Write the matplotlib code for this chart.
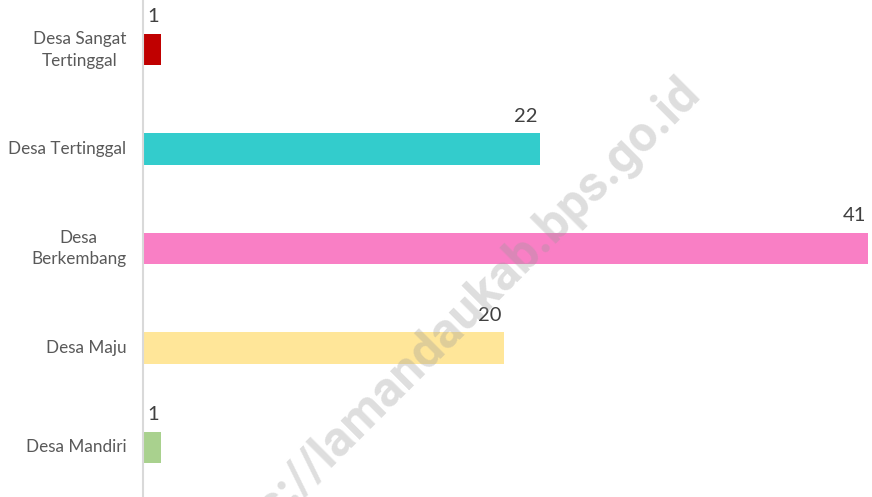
import numpy as np
import matplotlib
matplotlib.use("Agg")
import matplotlib.pyplot as plt

# data (top to bottom)
kategori = ["Desa Sangat\nTertinggal", "Desa Tertinggal", "Desa\nBerkembang",
            "Desa Maju", "Desa Mandiri"]
jumlah = [1, 22, 41, 20, 1]
warna = ["#C00000", "#33CCCC", "#F97FC5", "#FFE699", "#A9D18E"]

plt.rcParams["font.family"] = ["Lato", "DejaVu Sans"]

fig = plt.figure(figsize=(8.72, 4.97), dpi=100)
ax = fig.add_axes([143.0 / 872, 0.0, (868 - 143.0) / 872, 1.0])

y = np.arange(len(kategori))
ax.barh(y, jumlah, height=0.315, color=warna, zorder=2)

x_max = 40.2  # plot area in the source cuts off the longest bar
ax.set_xlim(0, x_max)
ax.set_ylim(len(kategori) - 0.5, -0.5)

for yi, v in zip(y, jumlah):
    ax.text(min(v, x_max) - 0.12, yi - 0.245, str(v), ha="right", va="bottom",
            fontsize=14.5, color="#404040", zorder=3)

ax.set_yticks(y)
ax.set_yticklabels(kategori, fontsize=12.3, color="#595959",
                   multialignment="center", linespacing=1.45)
for lbl in ax.get_yticklabels():
    lbl.set_verticalalignment("center")
ax.tick_params(axis="y", length=0, pad=12)
ax.set_xticks([])
for s in ["top", "right", "bottom"]:
    ax.spines[s].set_visible(False)
ax.spines["left"].set_color("#D9D9D9")
ax.spines["left"].set_linewidth(1.5)
ax.spines["left"].set_zorder(4)

# watermark, anchored at the end of its baseline
fig.text(702 / 872, 1 - 95 / 497, "https://lamandaukab.bps.go.id", rotation=45,
         rotation_mode="anchor", ha="right", va="baseline", fontsize=36,
         fontweight="bold", family=["Roboto", "DejaVu Sans"],
         color="#9a9a9a", alpha=0.32, zorder=10)

fig.savefig("out.png", dpi=100)
